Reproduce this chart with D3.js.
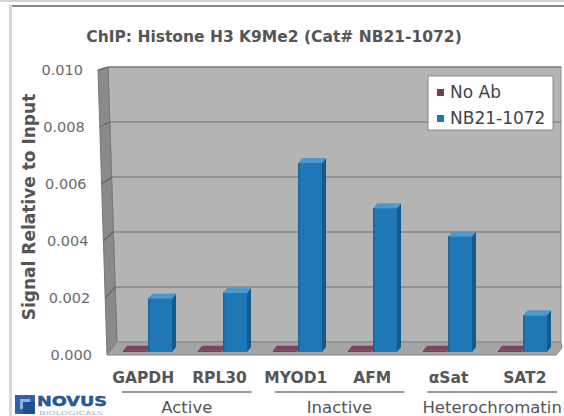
<!DOCTYPE html>
<html>
<head>
<meta charset="utf-8">
<script src="https://cdn.jsdelivr.net/npm/d3@7"></script>
<style>
  html, body { margin: 0; padding: 0; background: #ffffff; }
  svg { display: block; }
</style>
</head>
<body>
<svg id="chart" width="564" height="416"></svg>
<script>
// ---------------- DATA ----------------
const categories = ["GAPDH", "RPL30", "MYOD1", "AFM", "\u03b1Sat", "SAT2"];
const groups = ["Active", "Inactive", "Heterochromatin"];
const seriesNames = ["No Ab", "NB21-1072"];
const noAbValues = [0.00004, 0.00004, 0.00004, 0.00004, 0.00004, 0.00004];
const nb21Values = [0.0019, 0.0021, 0.0067, 0.0051, 0.0041, 0.0013];
const yTicks = [0, 0.002, 0.004, 0.006, 0.008, 0.010];
const title = "ChIP: Histone H3 K9Me2 (Cat# NB21-1072)";
const yTitle = "Signal Relative to Input";

// ---------------- SETUP ----------------
const svg = d3.select("#chart");
const FONT = "'DejaVu Sans', Verdana, sans-serif";
const seriesColors = {
  "No Ab": { front: "#7a3a5c", top: "#7f4263", side: "#5a2843" },
  "NB21-1072": { front: "#1f78b5", top: "#4a9ad0", side: "#145a8a" }
};

// frame
svg.append("rect").attr("x", 0).attr("y", 0).attr("width", 564).attr("height", 2).attr("fill", "#d4d4d4");
svg.append("rect").attr("x", 10).attr("y", 5).attr("width", 554).attr("height", 2).attr("fill", "#8a8a8a");
svg.append("rect").attr("x", 9).attr("y", 5).attr("width", 3).attr("height", 411).attr("fill", "#d8d8d8");

// value scales for the 3D walls (front plane and back plane)
const yFront = d3.scaleLinear().domain([0, 0.01]).range([355, 70]);
const yBack = d3.scaleLinear().domain([0, 0.01]).range([342, 67]);
const xFrontLeft = d3.scaleLinear().domain([0, 0.01]).range([107, 98]);
const xBackLeft = d3.scaleLinear().domain([0, 0.01]).range([117, 108]);
const xBackRight = 561;
const xFrontRight = 556;
const vmax = 0.01;

// back wall
const backPts = [
  [xBackLeft(vmax), yBack(vmax)], [xBackRight, yBack(vmax)],
  [xBackRight, yBack(0)], [xBackLeft(0), yBack(0)]
];
svg.append("polygon").attr("points", backPts.map(p => p.join(",")).join(" "))
  .attr("fill", "#b4b4b4").attr("stroke", "#8a8a8a").attr("stroke-width", 1);

// left side wall
const leftPts = [
  [xFrontLeft(vmax), yFront(vmax)], [xBackLeft(vmax), yBack(vmax)],
  [xBackLeft(0), yBack(0)], [xFrontLeft(0), yFront(0)]
];
svg.append("polygon").attr("points", leftPts.map(p => p.join(",")).join(" "))
  .attr("fill", "#8a8a8a").attr("stroke", "#777").attr("stroke-width", 1);

// floor
const floorPts = [
  [xBackLeft(0), yBack(0)], [xBackRight, yBack(0)],
  [xBackRight + 1, yBack(0) + 6], [xFrontRight, yFront(0)], [xFrontLeft(0), yFront(0)]
];
svg.append("polygon").attr("points", floorPts.map(p => p.join(",")).join(" "))
  .attr("fill", "#a4a4a4").attr("stroke", "#858585").attr("stroke-width", 1);

// gridlines
const grid = svg.append("g");
yTicks.filter(v => v > 0).forEach(v => {
  grid.append("line")
    .attr("x1", xBackLeft(v)).attr("x2", xBackRight)
    .attr("y1", yBack(v)).attr("y2", yBack(v))
    .attr("stroke", "#6f6f6f").attr("stroke-width", 1.2);
  grid.append("line")
    .attr("x1", xFrontLeft(v)).attr("x2", xBackLeft(v))
    .attr("y1", yFront(v)).attr("y2", yBack(v))
    .attr("stroke", "#666").attr("stroke-width", 1.2);
});

// tick labels
const fmt = d3.format(".3f");
svg.append("g").selectAll("text").data(yTicks).join("text")
  .attr("x", d => xFrontLeft(d) - 15)
  .attr("y", d => yFront(d))
  .attr("dy", "0.35em")
  .attr("text-anchor", "end")
  .attr("font-family", FONT).attr("font-size", 14.5)
  .attr("fill", "#6a6a6a")
  .text(d => fmt(d));

// ---------------- BARS ----------------
const x0 = d3.scaleBand().domain(categories).range([110, 560]).padding(0);
const x1 = d3.scaleBand().domain(seriesNames).range([13, 62]).paddingInner(0.06);
const yBar = d3.scaleLinear().domain([0, 0.01]).range([352, 70]);
const ddx = 4, ddy = -5;

const barData = [];
categories.forEach((c, i) => {
  barData.push({ cat: c, series: "No Ab", value: noAbValues[i] });
  barData.push({ cat: c, series: "NB21-1072", value: nb21Values[i] });
});

const bars = svg.append("g").selectAll("g").data(barData).join("g");
bars.each(function(d) {
  const g = d3.select(this);
  const x = x0(d.cat) + x1(d.series);
  const w = x1.bandwidth();
  const yt = yBar(d.value), yb = yBar(0);
  const col = seriesColors[d.series];
  g.append("polygon")
    .attr("points", [[x + w, yt], [x + w + ddx, yt + ddy], [x + w + ddx, yb + ddy], [x + w, yb]].map(p => p.join(",")).join(" "))
    .attr("fill", col.side);
  g.append("polygon")
    .attr("points", [[x, yt], [x + ddx, yt + ddy], [x + w + ddx, yt + ddy], [x + w, yt]].map(p => p.join(",")).join(" "))
    .attr("fill", col.top);
  g.append("rect")
    .attr("x", x).attr("y", yt).attr("width", w).attr("height", Math.max(0.5, yb - yt))
    .attr("fill", col.front);
  g.append("line").attr("x1", x + 0.5).attr("x2", x + 0.5).attr("y1", yt).attr("y2", yb)
    .attr("stroke", col.side).attr("stroke-width", 1);
});

// ---------------- CATEGORY LABELS ----------------
const xLab = d3.scaleBand().domain(categories).range([105, 563]);
svg.append("g").selectAll("text").data(categories).join("text")
  .attr("x", d => xLab(d) + xLab.bandwidth() / 2)
  .attr("y", 378).attr("dy", "0.35em")
  .attr("text-anchor", "middle")
  .attr("font-family", FONT).attr("font-weight", "bold").attr("font-size", 15.5)
  .attr("fill", "#555")
  .text(d => d);

// group brackets
const xGroup = d3.scaleBand().domain(groups).range([105, 563]);
const gg = svg.append("g").selectAll("g").data(groups).join("g");
gg.append("line")
  .attr("x1", d => xGroup(d) + 17).attr("x2", d => xGroup(d) + xGroup.bandwidth() - 6)
  .attr("y1", 392).attr("y2", 392)
  .attr("stroke", "#777").attr("stroke-width", 1.5);
gg.append("text")
  .attr("x", d => xGroup(d) + (17 + xGroup.bandwidth() - 6) / 2)
  .attr("y", 407).attr("dy", "0.35em")
  .attr("text-anchor", "middle")
  .attr("font-family", FONT).attr("font-size", 16.5)
  .attr("fill", "#555")
  .text(d => d);

// ---------------- TITLES ----------------
svg.append("text").attr("x", 274).attr("y", 37).attr("dy", "0.35em")
  .attr("text-anchor", "middle")
  .attr("font-family", FONT).attr("font-weight", "bold").attr("font-size", 15.5)
  .attr("fill", "#555").text(title);

svg.append("text")
  .attr("transform", "translate(29,207) rotate(-90)")
  .attr("dy", "0.35em")
  .attr("text-anchor", "middle")
  .attr("font-family", FONT).attr("font-weight", "bold").attr("font-size", 17)
  .attr("fill", "#555").text(yTitle);

// ---------------- LEGEND ----------------
const lg = svg.append("g").attr("transform", "translate(428,76)");
lg.append("rect").attr("width", 125).attr("height", 54)
  .attr("fill", "#ffffff").attr("stroke", "#8a8a8a").attr("stroke-width", 1);
seriesNames.forEach((s, i) => {
  lg.append("rect").attr("x", 9).attr("y", 13 + i * 26).attr("width", 7).attr("height", 7)
    .attr("fill", seriesColors[s].front);
  lg.append("text").attr("x", 22).attr("y", 16.5 + i * 26).attr("dy", "0.35em")
    .attr("font-family", FONT).attr("font-size", 17).attr("fill", "#444").text(s);
});

// ---------------- LOGO ----------------
const logo = svg.append("g").attr("transform", "translate(15,394)");
logo.append("rect").attr("x", 0).attr("y", 1).attr("width", 20).attr("height", 19).attr("fill", "#2f62a8");
logo.append("rect").attr("x", 5).attr("y", 5).attr("width", 10).attr("height", 10).attr("fill", "#8fb3dd");
logo.append("rect").attr("x", 8).attr("y", 8).attr("width", 12).attr("height", 12).attr("fill", "#1d4f95");
logo.append("text").attr("x", 22).attr("y", 12)
  .attr("font-family", "'DejaVu Sans', sans-serif").attr("font-weight", "bold").attr("font-size", 14)
  .attr("textLength", 70).attr("lengthAdjust", "spacingAndGlyphs")
  .attr("fill", "#2a5c9e").attr("stroke", "#1c3f73").attr("stroke-width", 0.4).text("NOVUS");
logo.append("text").attr("x", 24).attr("y", 21)
  .attr("font-family", "'DejaVu Sans', sans-serif").attr("font-size", 5.5)
  .attr("textLength", 64).attr("lengthAdjust", "spacingAndGlyphs")
  .attr("fill", "#9fb3cc").text("BIOLOGICALS");
</script>
</body>
</html>
